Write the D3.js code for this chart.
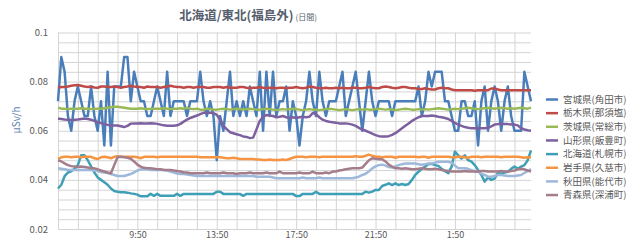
<!DOCTYPE html>
<html lang="ja">
  <head>
    <meta charset="utf-8">
    <title>北海道/東北(福島外)</title>
    <script src="https://d3js.org/d3.v7.min.js"></script>
    <style>
      body { margin: 0; background: #fff; }
      text { font-family: "Noto Sans CJK JP", "Noto Sans", sans-serif; }
    </style>
  </head>
  <body>
    <script type="text/javascript">
    let w = 640;
    let h = 240;

    // 10-minute readings, 5:50 through 5:40 of the next day
    let times = d3.range(144).map(i => {
      let m = (5 * 60 + 50 + i * 10) % 1440;
      return Math.floor(m / 60) + ":" + String(m % 60).padStart(2, "0");
    });
    let xTickLabels = ["9:50", "13:50", "17:50", "21:50", "1:50"];
    let yTickLabels = [0.02, 0.04, 0.06, 0.08, 0.1];

    let names = ["宮城県(角田市)", "栃木県(那須塩)", "茨城県(常総市)", "山形県(飯豊町)",
                 "北海道(札幌市)", "岩手県(久慈市)", "秋田県(能代市)", "青森県(深浦町)"];

    let miyagi = [
      .072,.090,.084,.066,.060,.072,.078,.072,.066,.066,.078,.066,
      .060,.072,.054,.084,.054,.078,.078,.078,.090,.090,.072,.084,
      .078,.072,.072,.066,.066,.072,.078,.072,.066,.084,.066,.072,
      .072,.072,.072,.066,.072,.072,.072,.084,.072,.066,.072,.066,
      .048,.066,.060,.072,.084,.066,.072,.066,.072,.066,.078,.072,
      .066,.084,.060,.084,.066,.084,.066,.072,.072,.078,.060,.072,
      .066,.054,.066,.072,.084,.072,.066,.084,.072,.066,.072,.072,
      .072,.078,.084,.066,.072,.078,.084,.072,.060,.072,.084,.072,
      .066,.072,.072,.072,.072,.066,.072,.072,.072,.072,.072,.072,
      .072,.078,.066,.072,.084,.078,.084,.084,.084,.072,.072,.066,
      .060,.060,.072,.072,.066,.066,.072,.054,.072,.078,.060,.072,
      .078,.072,.060,.072,.078,.066,.060,.060,.060,.084,.078,.072];
    let tochigi = [
      .0775,.0778,.0778,.078,.0783,.0785,.0786,.0783,.078,.0778,.078,.0776,
      .0775,.078,.078,.0778,.0778,.078,.0778,.0775,.0778,.078,.0783,.078,
      .0778,.0778,.0775,.078,.0778,.0778,.0778,.0775,.0778,.078,.0783,.078,
      .0778,.0778,.0775,.0778,.0778,.0775,.0778,.0778,.0778,.0775,.0775,.0778,
      .0778,.0778,.0775,.0778,.0775,.0775,.0775,.0778,.0778,.0775,.0773,.0775,
      .0775,.0778,.0775,.0773,.0775,.0775,.0773,.0775,.0775,.0773,.0775,.0775,
      .0778,.0775,.0773,.0775,.078,.0778,.0775,.0773,.0773,.0775,.0773,.0773,
      .0775,.0773,.0775,.0773,.0773,.0775,.0775,.0773,.0773,.0775,.0778,.0775,
      .0773,.0773,.0778,.078,.0778,.0775,.0773,.0775,.0778,.0778,.0775,.0773,
      .0773,.077,.077,.0773,.077,.0768,.0768,.0773,.0775,.0773,.0773,.0768,
      .0765,.0765,.0765,.0765,.0765,.0765,.0763,.0765,.0765,.0765,.0765,.0772,
      .0772,.0768,.0765,.0765,.0765,.0765,.0765,.0765,.0765,.0765,.0765,.0765];
    let ibaraki = [
      .0694,.069,.069,.0688,.069,.069,.069,.0692,.069,.069,.0688,.069,
      .069,.069,.0692,.0694,.0696,.0698,.0698,.0696,.0694,.0692,.069,.069,
      .069,.0692,.069,.0688,.069,.069,.069,.069,.0692,.069,.0688,.069,
      .069,.0692,.069,.0694,.069,.0688,.069,.0686,.0686,.069,.0688,.0686,
      .0686,.0688,.069,.0688,.0686,.0688,.069,.0688,.0686,.0688,.069,.0688,
      .0686,.0686,.0688,.069,.0688,.0686,.0684,.0686,.0688,.0686,.0688,.069,
      .0688,.0686,.0684,.0686,.0688,.0686,.0686,.0684,.0686,.0688,.069,.0688,
      .0686,.0684,.0686,.0688,.0686,.0684,.0686,.0688,.0686,.0688,.0686,.0686,
      .0688,.069,.0688,.0686,.0688,.0686,.0684,.0686,.0688,.069,.0688,.0686,
      .0686,.0688,.0686,.0688,.0686,.0688,.069,.0692,.069,.0688,.0686,.0688,
      .069,.0688,.069,.0692,.0694,.0692,.069,.0688,.069,.0692,.0694,.0692,
      .069,.0692,.0694,.0692,.069,.0692,.069,.0692,.0694,.0692,.069,.0694];
    let yamagata = [
      .065,.0648,.0646,.0645,.0644,.0645,.0646,.0648,.065,.0648,.0645,.064,
      .0635,.0631,.0628,.0624,.0621,.0621,.0621,.0618,.0615,.062,.0629,.063,
      .063,.0631,.063,.063,.0631,.063,.0628,.0625,.0622,.062,.062,.062,
      .0622,.0628,.0637,.0645,.0652,.0657,.0662,.0668,.0673,.0673,.0673,.0672,
      .0665,.0645,.062,.0607,.0594,.059,.0586,.0582,.0577,.0575,.057,.0572,
      .0605,.064,.0657,.0664,.0662,.066,.0655,.0657,.066,.0655,.0652,.0655,
      .0652,.0655,.0657,.0655,.0657,.0672,.0668,.0655,.0645,.064,.0637,.0635,
      .0633,.063,.063,.063,.0628,.0625,.062,.0612,.0605,.06,.0594,.0588,
      .0582,.0578,.0577,.0577,.0578,.0583,.059,.06,.061,.062,.063,.064,
      .0648,.0655,.066,.066,.066,.0662,.066,.0657,.0655,.0652,.0648,.064,
      .0632,.0625,.062,.0615,.0612,.061,.061,.061,.061,.061,.0612,.0618,
      .0625,.0627,.0627,.0627,.0627,.0625,.0625,.0622,.061,.0605,.0602,.06];
    let hokkaido = [
      .0365,.038,.0415,.043,.0435,.0445,.046,.050,.050,.048,.0455,.043,
      .041,.040,.039,.038,.0365,.0355,.0352,.035,.035,.0348,.0345,.0343,
      .034,.0333,.0333,.0333,.0343,.0335,.0343,.0335,.0335,.0335,.0335,.0335,
      .0343,.0335,.0343,.0343,.0343,.0343,.0343,.0343,.0343,.0343,.0343,.0343,
      .0352,.0352,.0343,.0343,.0343,.0343,.0343,.0343,.0335,.0343,.0343,.0343,
      .0343,.0343,.0343,.0343,.0343,.0343,.0343,.0343,.0343,.0343,.0343,.0343,
      .0334,.0334,.0343,.0343,.0343,.0343,.0352,.0343,.0343,.0343,.0343,.0343,
      .0343,.0343,.0343,.0343,.0343,.0343,.0343,.0343,.0343,.0352,.0348,.0352,
      .0359,.0359,.0375,.038,.0386,.0379,.0386,.0379,.0383,.0379,.0383,.040,
      .042,.0433,.0445,.0454,.0465,.0465,.046,.0457,.0445,.0435,.0427,.0454,
      .0515,.050,.0487,.050,.048,.0474,.046,.044,.042,.0393,.041,.040,
      .0405,.0428,.0425,.043,.0433,.0445,.0454,.0445,.0454,.046,.048,.052];
    let iwate = [
      .0485,.0492,.0494,.0494,.0492,.0494,.0494,.0492,.0494,.0494,.0494,.0488,
      .0485,.0492,.0494,.0492,.0488,.0494,.0496,.0494,.0494,.0494,.0494,.0494,
      .0492,.0488,.0494,.0494,.0494,.0494,.0492,.0494,.0494,.0494,.0494,.0494,
      .0494,.0494,.0494,.0494,.0494,.0494,.0494,.0492,.0492,.0492,.0492,.0492,
      .0492,.0492,.049,.0488,.0488,.049,.0488,.0485,.0485,.0485,.0485,.0485,
      .0483,.0483,.0481,.0481,.0483,.0481,.0481,.0481,.0483,.0481,.0485,.049,
      .0494,.0494,.0494,.0492,.0494,.0494,.0494,.0492,.0494,.0494,.0494,.0494,
      .0494,.0494,.0494,.0494,.0494,.0494,.0496,.0494,.0494,.0498,.0503,.0498,
      .0494,.0494,.0492,.0494,.0494,.0494,.049,.0494,.0494,.0494,.0494,.0494,
      .0494,.0492,.0494,.0494,.049,.0494,.0494,.0494,.0494,.0494,.0494,.0492,
      .0492,.0494,.0494,.0492,.049,.0494,.0494,.0494,.0492,.0494,.0494,.0494,
      .0494,.0494,.0492,.0494,.0494,.0494,.0494,.0494,.0492,.049,.0492,.0492];
    let akita = [
      .0447,.0445,.0443,.044,.044,.044,.044,.044,.044,.044,.044,.0438,
      .0436,.0432,.043,.0428,.0424,.042,.0416,.0416,.0416,.042,.0424,.043,
      .0438,.0443,.0443,.0443,.044,.044,.044,.044,.044,.0438,.0434,.043,
      .0426,.0424,.0424,.0422,.042,.0418,.0416,.0416,.0416,.0416,.0416,.0416,
      .0416,.0416,.0416,.0416,.0416,.0416,.0416,.0416,.0416,.0416,.0416,.0416,
      .0413,.0413,.0413,.0413,.0413,.041,.0407,.0407,.0407,.0407,.0407,.0407,
      .0407,.0407,.041,.0407,.0407,.0407,.0407,.041,.0407,.0407,.0407,.0407,
      .0407,.0407,.0407,.0407,.0407,.0407,.041,.0413,.042,.0425,.0435,.0447,
      .0455,.046,.0462,.0458,.0452,.045,.0455,.046,.0464,.0467,.0467,.0467,
      .0467,.0464,.0462,.0464,.0467,.0467,.047,.0474,.0474,.0474,.0474,.047,
      .0458,.0447,.0447,.0447,.0445,.044,.0435,.0433,.0425,.042,.0413,.0413,
      .0416,.042,.042,.0418,.0416,.0416,.0416,.0418,.042,.0428,.0436,.0444];
    let aomori = [
      .048,.0475,.0467,.046,.0456,.0454,.0452,.0454,.0452,.045,.0447,.0447,
      .0443,.0438,.0434,.043,.0427,.046,.0492,.0494,.0492,.049,.0486,.0475,
      .0462,.0454,.0449,.0447,.0447,.0445,.0443,.0443,.044,.044,.044,.0438,
      .0436,.0434,.043,.043,.0427,.0427,.0427,.0427,.0427,.043,.0427,.0427,
      .0427,.0427,.043,.0427,.0427,.0427,.0424,.0427,.0427,.0427,.043,.0427,
      .0427,.0427,.0427,.043,.0427,.0427,.0427,.0434,.0427,.0427,.0427,.0427,
      .0427,.043,.0427,.0427,.0427,.0434,.0427,.0427,.0427,.043,.0427,.0434,
      .0434,.0438,.044,.0443,.0445,.0447,.0447,.0447,.045,.0465,.048,.0488,
      .0486,.0484,.0484,.0475,.0462,.0454,.0447,.0447,.0445,.0447,.0445,.0443,
      .0443,.0445,.0447,.0445,.0443,.0443,.0445,.0443,.044,.0438,.0436,.0434,
      .0434,.0434,.0434,.0436,.0434,.0434,.0434,.0434,.0436,.0436,.0434,.0434,
      .0434,.0434,.0436,.0434,.0434,.0436,.0438,.0443,.0445,.0443,.0438,.0434];

    let series = [miyagi, tochigi, ibaraki, yamagata, hokkaido, iwate, akita, aomori];
    let colors = ["#4a7ebb", "#be4b48", "#98b954", "#7d60a0",
                  "#3f9fb6", "#f59443", "#9db8da", "#a47d8b"];

    let plotLeft = 58, plotRight = 531, plotTop = 32.5, plotBottom = 229;

    let svg = d3.select("body")
                .append("svg")
                .attr("width", w)
                .attr("height", h);

    let xScale = d3.scalePoint().domain(times).range([plotLeft, plotRight]);
    let yScale = d3.scaleLinear().domain([0.02, 0.1]).range([plotBottom, plotTop]);

    // grid
    svg.append("g")
      .attr("class", "grid")
      .attr("transform", "translate(" + plotLeft + ",0)")
      .call(d3.axisLeft(yScale)
        .tickValues(d3.range(21).map(k => 0.02 + k * 0.004))
        .tickSize(-(plotRight - plotLeft))
        .tickFormat(""));
    svg.append("g")
      .attr("class", "grid")
      .attr("transform", "translate(0," + plotBottom + ")")
      .call(d3.axisBottom(xScale)
        .tickValues(times.filter((t, i) => i % 6 === 0))
        .tickSize(-(plotBottom - plotTop))
        .tickFormat(""));
    svg.selectAll(".grid .domain").remove();
    svg.selectAll(".grid .tick line").attr("stroke", "#d4d4d4").attr("stroke-width", 1);

    // axis labels
    let yAxis = svg.append("g")
      .attr("transform", "translate(" + (plotLeft - 7) + ",0)")
      .call(d3.axisLeft(yScale).tickValues(yTickLabels).tickSize(0)
        .tickFormat(d => +d.toFixed(2)));
    yAxis.select(".domain").remove();
    yAxis.selectAll("text").attr("font-size", "9.5px").attr("fill", "#595959")
      .attr("font-family", "'Liberation Sans', Arial, sans-serif");

    let xAxis = svg.append("g")
      .attr("transform", "translate(0," + (plotBottom - 0.5) + ")")
      .call(d3.axisBottom(xScale).tickValues(xTickLabels).tickSize(0));
    xAxis.select(".domain").remove();
    xAxis.selectAll("text").attr("font-size", "9px").attr("fill", "#595959")
      .attr("font-family", "'Liberation Sans', Arial, sans-serif");

    // lines
    let line = d3.line()
      .x((d, i) => xScale(times[i]))
      .y(d => yScale(d));

    svg.selectAll("path.series")
      .data(series)
      .enter()
      .append("path")
      .attr("class", "series")
      .attr("d", d => line(d))
      .attr("fill", "none")
      .attr("stroke", (d, i) => colors[i])
      .attr("stroke-width", 2.5)
      .attr("stroke-linejoin", "round");

    // title
    let title = svg.append("text")
      .attr("x", 248)
      .attr("y", 20)
      .attr("text-anchor", "middle")
      .attr("fill", "#56606e");
    title.append("tspan").attr("font-size", "12.5px").attr("font-weight", "bold").text("北海道/東北(福島外)");
    title.append("tspan").attr("font-size", "8px").attr("dx", 2).text("(日間)");

    svg.append("text")
      .attr("transform", "translate(20,120) rotate(-90)")
      .attr("text-anchor", "middle")
      .attr("font-size", "10px")
      .attr("fill", "#6083b3")
      .text("μSv/h");

    // legend
    let legend = svg.selectAll("g.legend")
      .data(names)
      .enter()
      .append("g")
      .attr("class", "legend")
      .attr("transform", (d, i) => "translate(546," + (99.5 + i * 13.65) + ")");
    legend.append("line")
      .attr("x1", 0).attr("x2", 12)
      .attr("stroke", (d, i) => colors[i])
      .attr("stroke-width", 2.5);
    legend.append("text")
      .attr("x", 17)
      .attr("dy", "0.35em")
      .attr("font-size", "9.5px")
      .attr("fill", "#595959")
      .text(d => d);
    </script>
  </body>
</html>
